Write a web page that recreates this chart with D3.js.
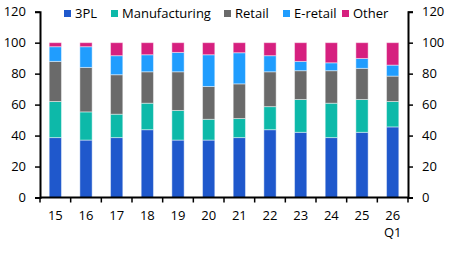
<!DOCTYPE html>
<html>
<head>
<meta charset="utf-8">
<script src="https://cdn.jsdelivr.net/npm/d3@7"></script>
<style>
  body { margin: 0; background: #fff; }
  text { font-family: "Open Sans", "Noto Sans", sans-serif; fill: #000; }
</style>
</head>
<body>
<svg id="chart" width="451" height="254"></svg>
<script>
// Categories (years) and series shares
const years = ["15", "16", "17", "18", "19", "20", "21", "22", "23", "24", "25", "26"];
const seriesNames = ["3PL", "Manufacturing", "Retail", "E-retail", "Other"];
const tpl = [38.7, 37.1, 38.7, 43.8, 37.1, 37.1, 38.7, 43.8, 42.1, 38.7, 42.1, 45.6];
const manufacturing = [23.3, 18.2, 15.1, 17.1, 19.1, 13.4, 12.3, 14.9, 21.2, 22.2, 21.2, 16.4];
const retail = [25.9, 28.7, 25.5, 20.3, 25.0, 21.2, 22.4, 22.5, 18.6, 21.0, 20.1, 16.4];
const eretail = [9.5, 13.4, 12.3, 11.0, 12.5, 20.5, 20.1, 10.4, 6.0, 5.1, 6.4, 7.1];
const other = [2.6, 2.6, 8.4, 7.8, 6.3, 7.8, 6.5, 8.4, 12.1, 13.0, 10.2, 14.5];
const yTicks = [0, 20, 40, 60, 80, 100, 120];

const colors = {
  "3PL": "#1f58cc",
  "Manufacturing": "#0db9a9",
  "Retail": "#6a6a6a",
  "E-retail": "#209dfe",
  "Other": "#d6207f"
};

const svg = d3.select("#chart");
const plotLeft = 40, plotRight = 408, plotTop = 11.7, plotBottom = 197.5;

// build table for stacking
const rows = years.map((y, i) => ({
  year: y,
  "3PL": tpl[i],
  "Manufacturing": manufacturing[i],
  "Retail": retail[i],
  "E-retail": eretail[i],
  "Other": other[i]
}));

const x = d3.scaleBand().domain(years).range([plotLeft, plotRight]).paddingInner(0.6).paddingOuter(0.3);
const xEdges = d3.scaleLinear().domain([0, years.length]).range([plotLeft, plotRight]);
const y = d3.scaleLinear().domain([0, 120]).range([plotBottom, plotTop]);

const stacked = d3.stack().keys(seriesNames)(rows);

svg.append("g")
  .selectAll("g")
  .data(stacked)
  .join("g")
  .attr("fill", d => colors[d.key])
  .selectAll("rect")
  .data(d => d)
  .join("rect")
  .attr("x", d => x(d.data.year))
  .attr("width", x.bandwidth())
  .attr("y", d => y(d[1]))
  .attr("height", d => y(d[0]) - y(d[1]))
  .attr("stroke", "#fff")
  .attr("stroke-opacity", 0.45)
  .attr("stroke-width", 1);

// Left axis
const yLeft = svg.append("g")
  .attr("transform", `translate(${plotLeft},0)`)
  .call(d3.axisLeft(y).tickValues(yTicks).tickSize(5).tickPadding(9));
// Right axis
const yRight = svg.append("g")
  .attr("transform", `translate(${plotRight},0)`)
  .call(d3.axisRight(y).tickValues(yTicks).tickSize(5).tickPadding(9));

[yLeft, yRight].forEach(g => {
  g.select(".domain").attr("stroke", "#000").attr("stroke-width", 2);
  g.selectAll(".tick line").attr("stroke", "#000").attr("stroke-width", 1.5);
  g.selectAll(".tick text").style("font-size", "13px").attr("fill", "#000");
});

// Bottom axis: ticks at category boundaries
const xAxis = svg.append("g").attr("transform", `translate(0,${plotBottom})`);
xAxis.append("line")
  .attr("x1", plotLeft).attr("x2", plotRight)
  .attr("stroke", "#000").attr("stroke-width", 2);
xAxis.selectAll("line.tk")
  .data(d3.range(years.length + 1))
  .join("line")
  .attr("class", "tk")
  .attr("x1", d => xEdges(d)).attr("x2", d => xEdges(d))
  .attr("y1", 0).attr("y2", 5)
  .attr("stroke", "#000").attr("stroke-width", 1.5);
xAxis.selectAll("text.lab")
  .data(years)
  .join("text")
  .attr("class", "lab")
  .attr("x", d => x(d) + x.bandwidth() / 2)
  .attr("y", 22)
  .attr("text-anchor", "middle")
  .style("font-size", "13px")
  .text(d => d);
xAxis.append("text")
  .attr("x", x("26") + x.bandwidth() / 2)
  .attr("y", 39)
  .attr("text-anchor", "middle")
  .style("font-size", "13px")
  .text("Q1");

// Legend
const legendX = [64, 111, 224, 283, 342];
const legend = svg.append("g")
  .selectAll("g")
  .data(seriesNames)
  .join("g")
  .attr("transform", (d, i) => `translate(${legendX[i]},10)`);
legend.append("rect")
  .attr("width", 7).attr("height", 7)
  .attr("fill", d => colors[d]);
legend.append("text")
  .attr("x", 11).attr("y", 8)
  .style("font-size", "13px")
  .text(d => d);
</script>
</body>
</html>
